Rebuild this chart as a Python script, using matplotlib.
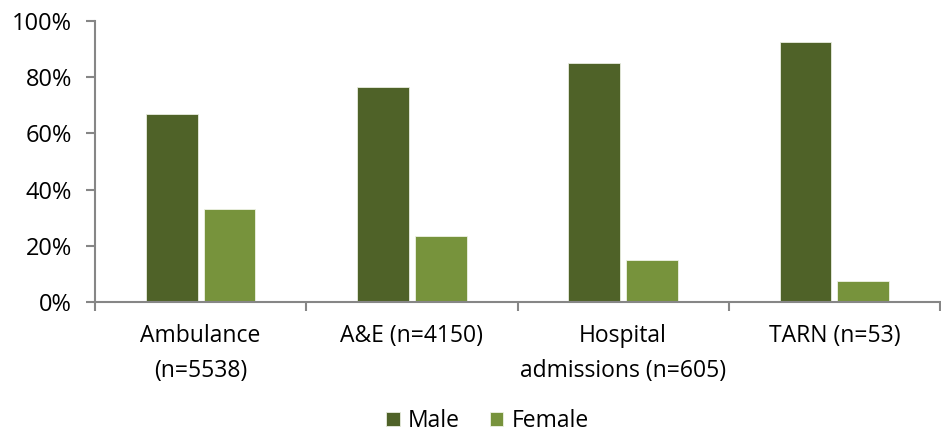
import matplotlib.pyplot as plt
from matplotlib.ticker import PercentFormatter, FixedLocator
import numpy as np

categories = ['Ambulance\n(n=5538)', 'A&E (n=4150)', 'Hospital\nadmissions (n=605)', 'TARN (n=53)']
male = [67, 76.5, 85, 92.5]
female = [33, 23.5, 15, 7.5]

plt.rcParams['font.family'] = ['Open Sans', 'DejaVu Sans']

fig = plt.figure(figsize=(9.41, 4.34), dpi=100)
ax = fig.add_axes([0.101, 0.304, 0.898, 0.6475])

x = np.arange(len(categories))
w = 0.245
off = w / 2 + 0.014
ax.bar(x - off, male, w, color='#4F6228', edgecolor='#e8ecdf', linewidth=0.6, label='Male')
ax.bar(x + off, female, w, color='#77933C', edgecolor='#eef2e4', linewidth=0.6, label='Female')

ax.set_xlim(-0.5, len(categories) - 0.5)
ax.set_ylim(0, 100)
ax.set_yticks(range(0, 101, 20))
ax.yaxis.set_major_formatter(PercentFormatter(decimals=0))

ax.set_xticks(x)
ax.set_xticklabels(categories, linespacing=1.6)
ax.xaxis.set_minor_locator(FixedLocator(np.arange(-0.5, len(categories), 1)))
ax.tick_params(axis='x', which='major', length=0, pad=16, labelsize=16.5)
ax.tick_params(axis='x', which='minor', length=6.5, width=1.5, color='#868686', direction='out')
ax.tick_params(axis='y', length=6.5, width=1.5, color='#868686', labelsize=17, pad=10)

for s in ['top', 'right']:
    ax.spines[s].set_visible(False)
for s in ['left', 'bottom']:
    ax.spines[s].set_color('#868686')
    ax.spines[s].set_linewidth(1.5)

fig.legend(loc='center', bbox_to_anchor=(0.518, 0.03), ncol=2, frameon=False,
           fontsize=16.5, handlelength=0.6, handleheight=0.6, handletextpad=0.35,
           columnspacing=1.3, borderpad=0.2)

fig.savefig('out.png', dpi=100)
